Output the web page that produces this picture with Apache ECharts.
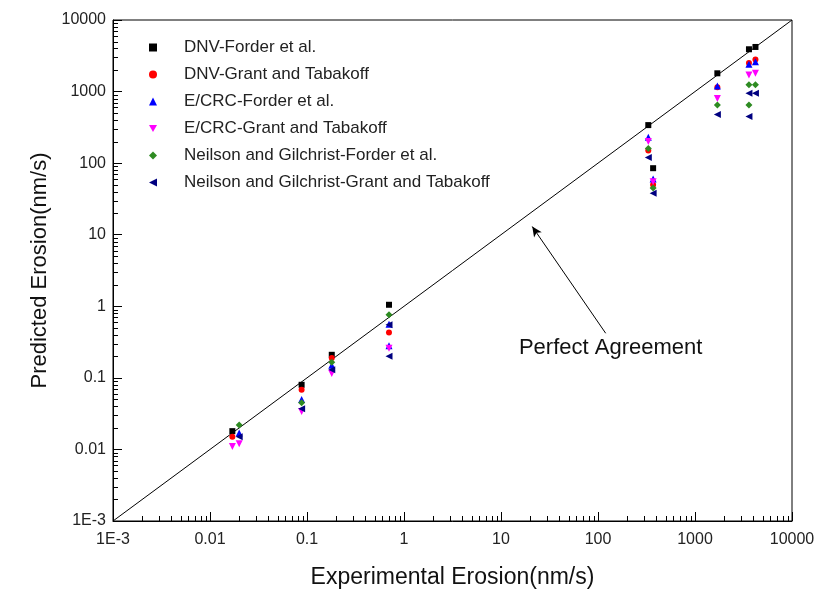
<!DOCTYPE html>
<html><head><meta charset="utf-8">
<script src="https://cdn.jsdelivr.net/npm/echarts@6/dist/echarts.min.js"></script>
<style>html,body{margin:0;padding:0;background:#fff}#c{width:820px;height:596px}</style>
</head><body><div id="c"></div>
<script>
var seriesNames = ['DNV-Forder et al.','DNV-Grant and Tabakoff','E/CRC-Forder et al.','E/CRC-Grant and Tabakoff','Neilson and Gilchrist-Forder et al.','Neilson and Gilchrist-Grant and Tabakoff'];
var dnvForderX = [0.017,0.088,0.18,0.7,330,370,1700,3600,4200];
var dnvForderY = [0.018,0.08,0.21,1.05,340,85,1800,3900,4200];
var dnvGrantX = [0.017,0.088,0.18,0.7,330,370,1700,3600,4200];
var dnvGrantY = [0.015,0.068,0.19,0.43,150,50,1150,2500,2800];
var ecrcForderX = [0.02,0.088,0.18,0.7,0.7,330,370,1700,3600,4200];
var ecrcForderY = [0.017,0.05,0.15,0.56,0.28,230,60,1200,2400,2600];
var ecrcGrantX = [0.017,0.02,0.088,0.18,0.7,330,370,1700,3600,4200];
var ecrcGrantY = [0.011,0.012,0.034,0.115,0.26,200,55,800,1700,1800];
var ngForderX = [0.02,0.088,0.18,0.7,330,370,1700,3600,3600,4200];
var ngForderY = [0.022,0.045,0.165,0.76,160,45,650,1250,650,1250];
var ngGrantX = [0.02,0.088,0.18,0.7,0.7,330,370,1700,3600,3600,4200];
var ngGrantY = [0.015,0.037,0.13,0.55,0.2,120,38,480,950,450,950];
var tickLabels = {'0.001':'1E-3','0.01':'0.01','0.1':'0.1','1':'1','10':'10','100':'100','1000':'1000','10000':'10000'};
var diagonal = [[0.001,0.001],[10000,10000]];
var arrowTail = [120, 0.42];
var arrowTip = [21, 13];
var annotationPos = [135, 0.26];

function pairs(xs, ys){ return xs.map(function(x,i){ return [x, ys[i]]; }); }
var minorVals = [];
for (var e=-3; e<4; e++){ for (var m=2; m<10; m++){ minorVals.push(m*Math.pow(10,e)); } }

var colors = ['#000000','#ff0000','#0000ff','#ff00ff','#2e8b22','#000080'];
var symbols = ['rect','circle','triangle','path://M0,0 L10,0 L5,9 Z','diamond','path://M10,0 L10,10 L0,5 Z'];
var sizes = [6,6,7,7,7,7];
var dataSets = [pairs(dnvForderX,dnvForderY),pairs(dnvGrantX,dnvGrantY),pairs(ecrcForderX,ecrcForderY),pairs(ecrcGrantX,ecrcGrantY),pairs(ngForderX,ngForderY),pairs(ngGrantX,ngGrantY)];

var font = 'Liberation Sans, Arial, sans-serif';
var chart = echarts.init(document.getElementById('c'), null, {renderer:'canvas'});
var series = [];
series.push({
  type:'line', data: diagonal, showSymbol:false, symbol:'none', silent:true,
  lineStyle:{color:'#000', width:1}, z:1,
  markLine:{silent:true, symbol:['none','arrow'], symbolSize:[7,10],
    lineStyle:{color:'#000', width:1, type:'solid'}, label:{show:false},
    data:[[{coord:arrowTail},{coord:arrowTip}]]},
  markPoint:{silent:true, symbol:'circle', symbolSize:0,
    label:{show:true, formatter:'Perfect Agreement', fontFamily:font, fontSize:22, color:'#111'},
    data:[{coord:annotationPos}]}
});
for (var i=0;i<6;i++){
  series.push({type:'scatter', name:seriesNames[i], data:dataSets[i], symbol:symbols[i], symbolSize:sizes[i],
    itemStyle:{color:colors[i], opacity:1}, z:3});
}
// minor ticks at true log positions on both axes
series.push({type:'custom', silent:true, clip:false, data: minorVals.map(function(v){return [v, v];}),
  renderItem:function(params, api){
    var p = api.coord([api.value(0), api.value(1)]);
    var origin = api.coord([0.001, 0.001]);
    var left = origin[0], bottom = origin[1];
    var px = Math.round(p[0]), py = Math.round(p[1]);
    return {type:'group', children:[
      {type:'rect', shape:{x:px, y:bottom-5, width:1, height:5}, style:{fill:'#000'}},
      {type:'rect', shape:{x:left, y:py, width:5, height:1}, style:{fill:'#000'}}
    ]};
  }, encode:{x:0, y:1}, z:5});

chart.setOption({
  animation:false,
  backgroundColor:'#fff',
  grid:{left:113, right:28, top:20, bottom:75, show:true, borderColor:'#000', borderWidth:1, backgroundColor:'transparent'},
  legend:{orient:'vertical', left:144, top:34, itemGap:10, itemWidth:8, itemHeight:8,
    data:seriesNames, textStyle:{fontFamily:font, fontSize:17, color:'#222', padding:[0,0,0,22]}},
  xAxis:{type:'log', logBase:10, min:0.001, max:10000,
    name:'Experimental Erosion(nm/s)', nameLocation:'middle', nameGap:45,
    nameTextStyle:{fontFamily:font, fontSize:23, color:'#111'},
    axisLine:{show:true, lineStyle:{color:'#000', width:1}},
    axisTick:{show:true, inside:true, length:9, lineStyle:{color:'#000'}},
    minorTick:{show:false},
    splitLine:{show:false},
    axisLabel:{fontFamily:font, fontSize:16, color:'#222', margin:11, formatter:function(v){return tickLabels[String(+v.toPrecision(6))]||v;}}},
  yAxis:{type:'log', logBase:10, min:0.001, max:10000,
    name:'Predicted Erosion(nm/s)', nameLocation:'middle', nameGap:62,
    nameTextStyle:{fontFamily:font, fontSize:22, color:'#111'},
    axisLine:{show:true, lineStyle:{color:'#000', width:1}},
    axisTick:{show:true, inside:true, length:9, lineStyle:{color:'#000'}},
    minorTick:{show:false},
    splitLine:{show:false},
    axisLabel:{fontFamily:font, fontSize:16, color:'#222', margin:7, formatter:function(v){return tickLabels[String(+v.toPrecision(6))]||v;}}},
  series: series
});
</script></body></html>
